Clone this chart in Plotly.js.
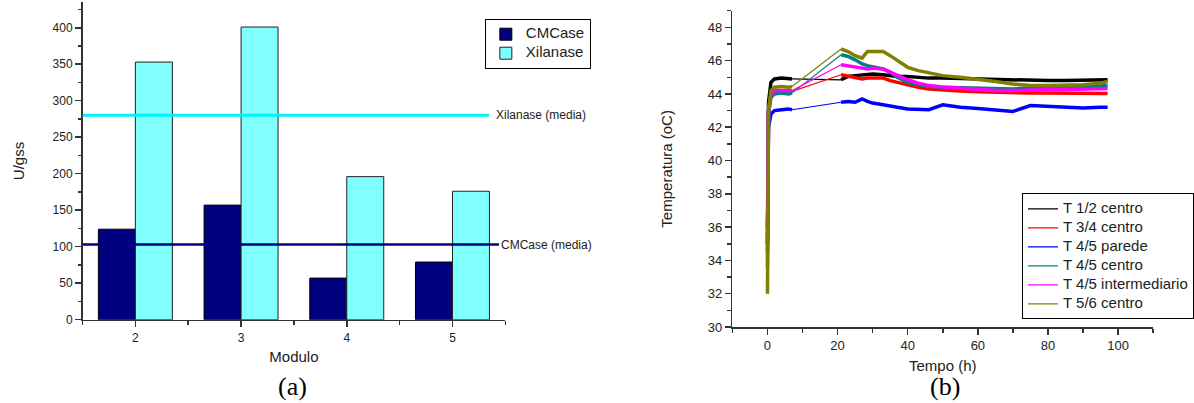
<!DOCTYPE html>
<html>
<head>
<meta charset="utf-8">
<script src="https://cdn.plot.ly/plotly-3.0.1.min.js"></script>
<style>html,body{margin:0;padding:0;background:#fff;}#chart{width:1194px;height:403px;}</style>
</head>
<body>
<div id="chart"></div>
<script>
// ---------- (a) enzyme activity per module ----------
const modulos = [2, 3, 4, 5];
const cmcase = [124, 157, 57, 79];
const xilanase = [353, 401, 196, 176];
const cmcaseMedia = 103;
const xilanaseMedia = 280;
const yTicksA = [0, 50, 100, 150, 200, 250, 300, 350, 400];

// ---------- (b) temperature vs time ----------
const tempo = [0, 0.3, 1, 2, 4, 6, 7, 21, 23, 25, 27, 28.5, 30, 33, 35, 37, 40, 43, 46, 50, 55, 60, 65, 70, 75, 80, 85, 90, 95, 97];
const gapIndex = 7; // first sample after the data gap (7 h -> 21 h)
const t12centro = [36, 43.5, 44.7, 44.9, 44.95, 44.9, 44.9, 44.85, 45.05, 45.1, 45.15, 45.15, 45.2, 45.15, 45.1, 45.05, 45.05, 45.0, 44.95, 44.95, 44.92, 44.9, 44.85, 44.82, 44.8, 44.8, 44.8, 44.8, 44.82, 44.85];
const t34centro = [34.5, 43.0, 43.9, 44.1, 44.15, 44.1, 44.15, 45.15, 45.05, 44.95, 44.9, 44.95, 44.95, 44.95, 44.8, 44.7, 44.5, 44.4, 44.3, 44.22, 44.17, 44.13, 44.1, 44.05, 44.05, 44.05, 44.05, 44.03, 44.03, 44.03];
const t45parede = [35, 42.0, 42.8, 43.0, 43.05, 43.1, 43.05, 43.5, 43.55, 43.5, 43.7, 43.55, 43.45, 43.35, 43.3, 43.2, 43.1, 43.05, 43.05, 43.35, 43.2, 43.12, 43.05, 42.95, 43.3, 43.25, 43.15, 43.15, 43.2, 43.2];
const t45centro = [33.6, 42.8, 43.8, 44.0, 44.05, 44.0, 44.05, 46.35, 46.25, 46.05, 45.8, 45.7, 45.65, 45.5, 45.3, 45.0, 44.7, 44.55, 44.45, 44.4, 44.37, 44.33, 44.3, 44.3, 44.35, 44.4, 44.4, 44.4, 44.45, 44.5];
const t45inter = [35, 43.0, 44.0, 44.2, 44.2, 44.2, 44.2, 45.75, 45.7, 45.6, 45.55, 45.5, 45.55, 45.5, 45.3, 45.1, 44.85, 44.65, 44.5, 44.42, 44.35, 44.27, 44.2, 44.2, 44.25, 44.27, 44.27, 44.27, 44.3, 44.32];
const t56centro = [32, 43.0, 44.2, 44.4, 44.45, 44.4, 44.45, 46.7, 46.55, 46.3, 46.15, 46.55, 46.55, 46.55, 46.3, 46.0, 45.6, 45.4, 45.25, 45.1, 45.0, 44.9, 44.75, 44.6, 44.5, 44.5, 44.5, 44.55, 44.65, 44.75];
const seriesNames = ['T 1/2 centro', 'T 3/4 centro', 'T 4/5 parede', 'T 4/5 centro', 'T 4/5 intermediario', 'T 5/6 centro'];
const seriesValues = [t12centro, t34centro, t45parede, t45centro, t45inter, t56centro];
const seriesColors = ['#000000', '#ff0000', '#0000ff', '#008080', '#ff00ff', '#808000'];

const FONT = 'Liberation Sans, Arial, sans-serif';
const SERIF = 'Liberation Serif, Times New Roman, serif';
const AX = '#333333';

const traces = [
  {type: 'bar', x: modulos, y: cmcase, name: '<span style="font-size:15px">CMCase</span>',
   marker: {color: '#000080', line: {color: '#000000', width: 1}}, xaxis: 'x', yaxis: 'y', legend: 'legend'},
  {type: 'bar', x: modulos, y: xilanase, name: '<span style="font-size:15px">Xilanase</span>',
   marker: {color: '#80ffff', line: {color: '#222222', width: 1}}, xaxis: 'x', yaxis: 'y', legend: 'legend'}
];

seriesValues.forEach((vals, i) => {
  const xs = tempo.slice(0, gapIndex).concat([null], tempo.slice(gapIndex));
  const ys = vals.slice(0, gapIndex).concat([null], vals.slice(gapIndex));
  traces.push({type: 'scatter', mode: 'lines', x: xs, y: ys, xaxis: 'x2', yaxis: 'y2',
    line: {color: seriesColors[i], width: 3.5}, connectgaps: false,
    legendgroup: seriesNames[i], showlegend: false, legend: 'legend2', hoverinfo: 'skip'});
  traces.push({type: 'scatter', mode: 'lines',
    x: [tempo[gapIndex - 1], tempo[gapIndex]], y: [vals[gapIndex - 1], vals[gapIndex]],
    xaxis: 'x2', yaxis: 'y2', line: {color: seriesColors[i], width: 1.2},
    name: '<span style="font-size:15px">' + seriesNames[i] + '</span>',
    legendgroup: seriesNames[i], showlegend: true, legend: 'legend2'});
});

const W = 1194, H = 403;
const axCommon = {showline: true, linecolor: AX, linewidth: 1.5, ticks: 'outside', tickcolor: AX,
  tickwidth: 1.5, ticklen: 6, showgrid: false, zeroline: false, mirror: false,
  tickfont: {family: FONT, size: 12, color: '#222'}};

const layout = {
  width: W, height: H,
  margin: {l: 0, r: 0, t: 0, b: 0},
  paper_bgcolor: '#fff', plot_bgcolor: '#fff',
  font: {family: FONT, color: '#222'},
  barmode: 'group', bargap: 0.3, bargroupgap: 0,
  xaxis: Object.assign({}, axCommon, {
    domain: [83 / W, 508.3 / W], range: [1.5, 5.5], tickmode: 'array', tickvals: modulos,
    ticktext: modulos.map(String),
    minor: {tickmode: 'linear', tick0: 1.5, dtick: 0.5, ticklen: 4, tickcolor: AX, tickwidth: 1.5},
    title: {text: 'Modulo', font: {family: FONT, size: 15, color: '#222'}, standoff: 8},
    anchor: 'y'}),
  yaxis: Object.assign({}, axCommon, {
    domain: [(H - 319.7) / H, (H - 2.2) / H], range: [0, 435], tickmode: 'array', tickvals: yTicksA,
    minor: {tickmode: 'linear', tick0: 0, dtick: 25, ticklen: 3.5, tickcolor: AX, tickwidth: 1.5},
    title: {text: 'U/gss', font: {family: FONT, size: 15, color: '#222'}, standoff: 24},
    anchor: 'x'}),
  xaxis2: Object.assign({}, axCommon, {
    domain: [736.7 / W, 1160 / W], range: [-10, 110], tickmode: 'linear', tick0: 0, dtick: 20,
    tickfont: {family: FONT, size: 13, color: '#222'},
    minor: {tickmode: 'linear', tick0: 0, dtick: 10, ticklen: 4, tickcolor: AX, tickwidth: 1.5},
    title: {text: 'Tempo (h)', font: {family: FONT, size: 15, color: '#222'}, standoff: 8},
    anchor: 'y2'}),
  yaxis2: Object.assign({}, axCommon, {
    domain: [(H - 327) / H, (H - 10.7) / H], range: [30, 49], tickmode: 'linear', tick0: 30, dtick: 2,
    tickfont: {family: FONT, size: 13, color: '#222'},
    minor: {tickmode: 'linear', tick0: 30, dtick: 1, ticklen: 4, tickcolor: AX, tickwidth: 1.5},
    title: {text: 'Temperatura (oC)', font: {family: FONT, size: 15, color: '#222'}, standoff: 31},
    anchor: 'x2'}),
  legend: {x: 487.7 / W, y: (H - 18.7) / H, xanchor: 'left', yanchor: 'top',
    bgcolor: '#fff', bordercolor: '#000', borderwidth: 1, font: {family: FONT, size: 10, color: '#222'},
    itemwidth: 30, tracegroupgap: 0},
  legend2: {x: 1028.3 / W, y: (H - 193.3) / H, xanchor: 'left', yanchor: 'top',
    bgcolor: '#fff', bordercolor: '#000', borderwidth: 1, font: {family: FONT, size: 10, color: '#222'},
    itemwidth: 30, tracegroupgap: 0},
  shapes: [
    {type: 'line', xref: 'x', yref: 'y', x0: 1.5, x1: 5.345, y0: xilanaseMedia, y1: xilanaseMedia,
     line: {color: '#00f0ff', width: 3}, layer: 'above'},
    {type: 'line', xref: 'x', yref: 'y', x0: 1.5, x1: 5.44, y0: cmcaseMedia, y1: cmcaseMedia,
     line: {color: '#000080', width: 2.3}, layer: 'above'}
  ],
  annotations: [
    {text: 'Xilanase (media)', xref: 'paper', yref: 'y', x: 497 / W, y: xilanaseMedia,
     xanchor: 'left', yanchor: 'middle', showarrow: false, font: {family: FONT, size: 12, color: '#222'}},
    {text: 'CMCase (media)', xref: 'paper', yref: 'y', x: 501.5 / W, y: cmcaseMedia,
     xanchor: 'left', yanchor: 'middle', showarrow: false, font: {family: FONT, size: 12, color: '#222'}},
    {text: '(a)', xref: 'paper', yref: 'paper', x: 294.5 / W, y: (H - 386) / H,
     xanchor: 'center', yanchor: 'middle', showarrow: false, font: {family: SERIF, size: 26, color: '#000'}},
    {text: '(b)', xref: 'paper', yref: 'paper', x: 950.5 / W, y: (H - 386) / H,
     xanchor: 'center', yanchor: 'middle', showarrow: false, font: {family: SERIF, size: 26, color: '#000'}}
  ]
};

Plotly.newPlot('chart', traces, layout, {displayModeBar: false, staticPlot: true});
</script>
</body>
</html>
